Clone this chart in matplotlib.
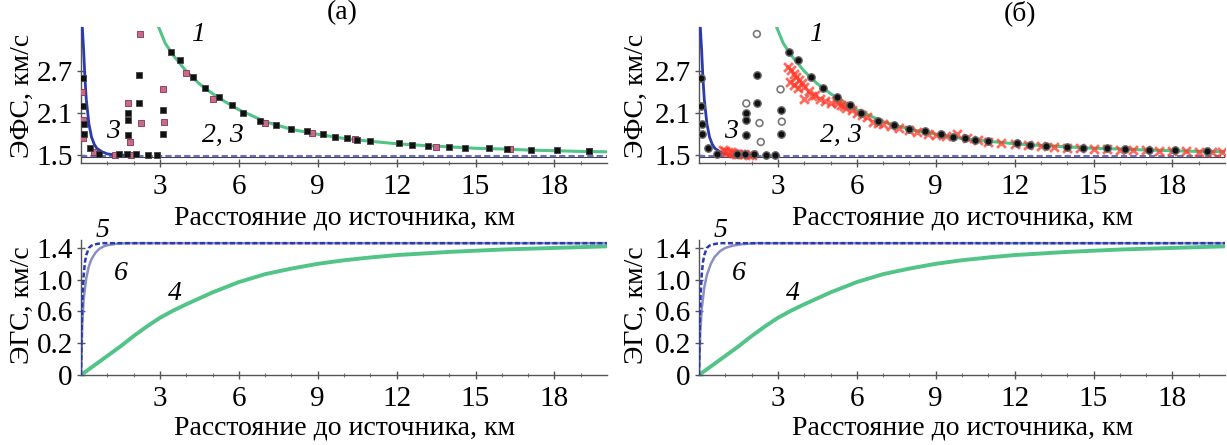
import numpy as np
import matplotlib
matplotlib.use("Agg")
import matplotlib.pyplot as plt

plt.rcParams['font.family'] = ['Liberation Serif', 'DejaVu Serif']

# ---------------- data ----------------
# curve 1 (EFS, model 1)
c1_x = [2.95, 3.2, 3.5, 4.0, 4.5, 5.0, 5.5, 6.0, 7.0, 8.0, 9.0, 10.0, 11.0, 12.0, 13.0, 14.0, 15.0, 16.0, 17.0, 18.0, 19.0, 20.0]
c1_y = [3.33, 3.10, 2.93, 2.70, 2.52, 2.38, 2.26, 2.15, 1.98, 1.87, 1.80, 1.74, 1.70, 1.665, 1.64, 1.62, 1.60, 1.59, 1.575, 1.565, 1.555, 1.55]
# curve 3 (EFS, model 3)
c3_x = [0.05, 0.1, 0.15, 0.2, 0.3, 0.4, 0.5, 0.6, 0.8, 1.0, 1.3, 1.7, 2.0]
c3_y = [3.33, 3.0, 2.6, 2.3, 1.95, 1.76, 1.66, 1.60, 1.55, 1.52, 1.505, 1.50, 1.50]
# asymptote line (dashed)
asym_x = [0.0, 20.0]
asym_y = [1.49, 1.49]

# points 2, 3 (black)
p_blk_x = [0.06, 0.08, 0.1, 0.12, 0.35, 0.7, 1.45, 1.75, 2.1, 2.55, 2.9, 1.8, 1.8, 1.8, 2.2, 2.2, 3.1, 3.1,
           3.43, 3.75, 4.27, 4.72, 5.24, 5.76, 6.16, 6.8, 7.4, 8.0, 8.6, 9.2, 9.64, 10.1, 10.5, 11.0,
           12.1, 12.6, 13.2, 14.0, 14.6, 15.5, 16.2, 17.1, 18.1, 19.3]
p_blk_y = [2.6, 2.2, 1.95, 1.8, 1.6, 1.52, 1.52, 1.52, 1.52, 1.51, 1.51, 2.10, 2.00, 1.79, 2.65, 2.24, 2.15, 1.81,
           2.98, 2.86, 2.62, 2.46, 2.33, 2.22, 2.10, 1.99, 1.93, 1.875, 1.84, 1.80, 1.76, 1.74, 1.72, 1.70,
           1.67, 1.64, 1.63, 1.62, 1.61, 1.60, 1.59, 1.58, 1.57, 1.56]
# points 2, 3 (pink)
p_pnk_x = [0.05, 0.07, 0.09, 0.5, 1.3, 1.9, 1.8, 1.85, 2.25, 2.3, 3.1, 3.15, 4.0, 5.0, 7.0, 8.8, 10.4, 13.5, 16.3, 19.3]
p_pnk_y = [2.4, 2.0, 1.75, 1.55, 1.51, 1.51, 2.24, 1.69, 3.23, 1.96, 2.44, 1.98, 2.68, 2.30, 1.96, 1.82, 1.73, 1.625, 1.59, 1.555]

# red crosses (panel б) – experimental estimates
red_x = [0.9, 1.0, 1.1, 1.2, 1.3, 1.4, 1.5, 1.6, 1.7, 1.9, 2.0,
         3.4, 3.5, 3.6, 3.7, 3.8, 3.9, 4.0, 4.2, 4.4, 4.6, 4.8, 5.0, 5.2, 5.3, 5.4, 5.5, 5.6, 5.8, 6.0, 6.2, 6.4,
         3.45, 3.6, 3.75, 4.0, 4.3,
         6.6, 6.8, 7.0, 7.3, 7.6, 8.0, 8.3, 8.7, 9.0, 9.4, 9.8, 10.2, 10.6, 11.0, 11.5, 12.0, 12.5, 13.0,
         13.5, 14.0, 14.5, 15.0, 15.5, 16.0, 16.5, 17.0, 17.5, 18.0, 18.5, 19.0, 19.5, 19.9]
red_y = [1.58, 1.56, 1.55, 1.54, 1.53, 1.525, 1.52, 1.52, 1.515, 1.51, 1.51,
         2.76, 2.72, 2.66, 2.62, 2.57, 2.53, 2.48, 2.42, 2.36, 2.31, 2.27, 2.25, 2.27, 2.24, 2.22, 2.20, 2.17, 2.14, 2.11, 2.08, 2.05,
         2.55, 2.50, 2.46, 2.30, 2.35,
         1.98, 1.96, 1.95, 1.92, 1.89, 1.86, 1.83, 1.81, 1.79, 1.78, 1.80, 1.74, 1.72, 1.69, 1.68, 1.66, 1.64, 1.63,
         1.62, 1.61, 1.60, 1.59, 1.59, 1.58, 1.575, 1.57, 1.56, 1.56, 1.555, 1.55, 1.545, 1.54]
# gray hollow circles (panel б)
p_gry_x = [2.2, 1.8, 2.3, 3.1, 3.15, 2.35]
p_gry_y = [3.23, 2.24, 1.96, 2.44, 1.98, 1.69]

# curve 4 (EGS)
c4_x = [0, 0.5, 1, 1.5, 2, 2.5, 3, 3.5, 4, 5, 6, 7, 8, 9, 10, 11, 12, 13, 14, 15, 16, 17, 18, 19, 20]
c4_y = [0.0, 0.06, 0.12, 0.18, 0.29, 0.41, 0.52, 0.61, 0.69, 0.84, 0.97, 1.07, 1.14, 1.20, 1.245, 1.28, 1.31, 1.33, 1.35, 1.365, 1.38, 1.39, 1.40, 1.41, 1.42]
# curve 5 (EGS)
c5_x = [0.0, 0.03, 0.06, 0.1, 0.15, 0.2, 0.3, 0.4, 0.6, 0.8, 1.0, 20.0]
c5_y = [0.0, 0.45, 0.80, 1.05, 1.22, 1.31, 1.40, 1.43, 1.45, 1.46, 1.46, 1.46]
# curve 6 (EGS), panel a / panel б
c6a_x = [0.0, 0.05, 0.1, 0.2, 0.3, 0.4, 0.55, 0.7, 0.9, 1.1, 1.4, 1.8, 20.0]
c6a_y = [0.0, 0.45, 0.75, 1.02, 1.17, 1.26, 1.34, 1.39, 1.425, 1.44, 1.455, 1.46, 1.46]
c6b_x = [0.0, 0.05, 0.1, 0.2, 0.3, 0.45, 0.6, 0.8, 1.0, 1.3, 1.7, 2.2, 20.0]
c6b_y = [0.0, 0.35, 0.62, 0.90, 1.06, 1.20, 1.29, 1.36, 1.40, 1.43, 1.45, 1.46, 1.46]

x_ticks = [3, 6, 9, 12, 15, 18]
efs_ticks = [1.5, 2.1, 2.7]
egs_ticks = [0, 0.2, 0.6, 1.0, 1.4]
egs_labels = ['0', '0.2', '0.6', '1.0', '1.4']
panel_titles = ['(a)', '(б)']
xlabel = 'Расстояние до источника, км'
ylabel_top = 'ЭФС, км/с'
ylabel_bot = 'ЭГС, км/с'

# ---------------- figure ----------------
W, H = 1227, 445
fig = plt.figure(figsize=(W / 100, H / 100), dpi=100)

GREEN = '#52c487'
BLUE = '#2a3ab0'
DASH = '#6a70c8'
PINK = '#c86a8a'
RED = '#ff3a2a'
FS = 21
FL = 20

def px(x0, y0, x1, y1):
    return [x0 / W, 1 - y1 / H, (x1 - x0) / W, (y1 - y0) / H]

# EGS axis of the original: 0..0.2 stretched, linear above 0.2
def egs_fwd(y):
    y = np.asarray(y, dtype=float)
    return np.where(y < 0.2, 2.0 * y, y + 0.2)

def egs_inv(v):
    v = np.asarray(v, dtype=float)
    return np.where(v < 0.4, v / 2.0, v - 0.2)

def style(ax, yt, ylim, ylabels=None):
    ax.set_xlim(0, 20)
    ax.set_ylim(*ylim)
    for s in ['top', 'right']:
        ax.spines[s].set_visible(False)
    for s in ['left', 'bottom']:
        ax.spines[s].set_color('#555555')
        ax.spines[s].set_linewidth(1.0)
    ax.set_xticks(x_ticks)
    ax.set_xticks(np.arange(1, 20, 1), minor=True)
    ax.set_yticks(yt)
    if ylabels is not None:
        ax.set_yticklabels(ylabels)
    ax.tick_params(which='major', direction='inout', length=6, width=1.0, color='#555555', labelsize=FS)
    ax.tick_params(which='minor', direction='inout', length=3, width=0.8, color='#777777')
    ax.tick_params(axis='x', which='major', pad=5)
    ax.tick_params(axis='y', which='major', pad=3)
    ax.patch.set_alpha(0)

lefts = [81, 699]
title_dx = [261, 321]
ylab_dx = [59, 63]
for i, L in enumerate(lefts):
    R = L + 526
    # ---- top panel
    ax = fig.add_axes(px(L, 27, R, 163))
    style(ax, efs_ticks, (1.39, 3.33))
    ax.plot(asym_x, [1.475, 1.475], color='#444444', lw=0.8, zorder=1)
    ax.plot(asym_x, asym_y, color=DASH, lw=1.5, ls=(0, (3, 1.5)), zorder=2)
    ax.plot(c1_x, c1_y, color=GREEN, lw=2.2, zorder=2)
    ax.plot(c3_x, c3_y, color=BLUE, lw=2.0, zorder=3)
    if i == 0:
        ax.scatter(p_pnk_x, p_pnk_y, s=22, marker='s', color=PINK, edgecolor='#8a3050', lw=0.6, zorder=4)
        ax.scatter(p_blk_x, p_blk_y, s=24, marker='s', color='#111111', edgecolor='#444444', lw=0.6, zorder=5)
    else:
        ax.scatter(red_x, red_y, s=40, marker='x', color=RED, lw=2.0, alpha=0.75, zorder=3)
        ax.scatter(p_gry_x, p_gry_y, s=24, marker='o', facecolor='none', edgecolor='#777777', lw=1.2, zorder=4)
        ax.scatter(p_blk_x, p_blk_y, s=28, marker='o', color='#111111', edgecolor='#666666', lw=1.0, zorder=5)
    ax.text(4.2, 3.22, '1', fontsize=FL, style='italic', ha='left', va='center')
    ax.text(0.95, 1.84, '3', fontsize=FL, style='italic', ha='left', va='center')
    ax.text(4.6, 1.78, '2, 3', fontsize=FL, style='italic', ha='left', va='center')
    fig.text((L + title_dx[i]) / W, 1 - 13 / H, panel_titles[i], fontsize=FL, ha='center', va='center')
    fig.text((L + 264) / W, 1 - 224 / H, xlabel, fontsize=FL, ha='center', va='baseline')
    fig.text((L - ylab_dx[i]) / W, 1 - 96 / H, ylabel_top, fontsize=FL, rotation=90, ha='center', va='center')

    # ---- bottom panel
    ax2 = fig.add_axes(px(L, 240, R, 375))
    ax2.set_yscale('function', functions=(egs_fwd, egs_inv))
    style(ax2, egs_ticks, (0, 1.5), egs_labels)
    ax2.plot(c4_x, c4_y, color=GREEN, lw=2.8, zorder=2)
    ax2.plot(c6a_x if i == 0 else c6b_x, c6a_y if i == 0 else c6b_y, color='#8a90c0', lw=1.8, zorder=2)
    ax2.plot(c5_x, c5_y, color=BLUE, lw=1.8, ls=(0, (2, 1)), zorder=3)
    ax2.text(0.55, 1.62, '5', fontsize=FL, style='italic', ha='left', va='center', clip_on=False)
    ax2.text(1.25, 1.08, '6', fontsize=FL, style='italic', ha='left', va='center')
    ax2.text(3.3, 0.83, '4', fontsize=FL, style='italic', ha='left', va='center')
    fig.text((L + 264) / W, 1 - 435 / H, xlabel, fontsize=FL, ha='center', va='baseline')
    fig.text((L - ylab_dx[i]) / W, 1 - 305 / H, ylabel_bot, fontsize=FL, rotation=90, ha='center', va='center')

fig.savefig('out.png', dpi=100)
